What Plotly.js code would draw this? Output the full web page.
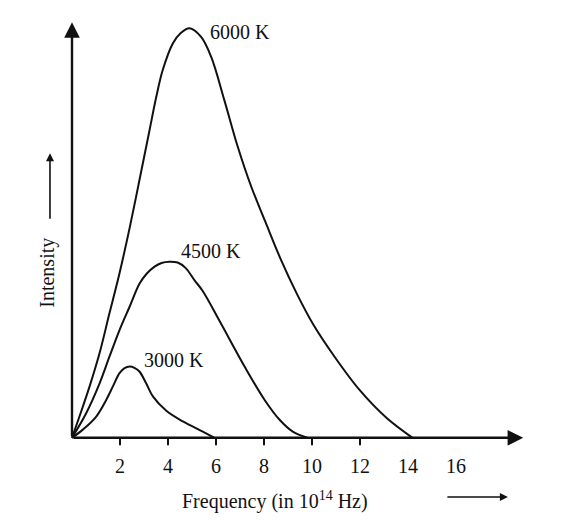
<!DOCTYPE html>
<html>
<head>
<meta charset="utf-8">
<script src="https://cdn.plot.ly/plotly-3.0.1.min.js"></script>
<style>
  html, body { margin: 0; padding: 0; background: #fff; }
  #chart { width: 588px; height: 526px; }
</style>
</head>
<body>
<div id="chart"></div>
<script>
// frequency in 10^14 Hz, intensity in arbitrary units (6000 K peak = 100)
const freq3000 = [0, 0.45, 1.01, 1.43, 1.70, 1.98, 2.19, 2.40, 2.60, 2.81, 3.09, 3.37, 3.93, 4.62, 5.45, 5.94];
const int3000  = [0, 2.0, 5.2, 9.3, 12.5, 15.8, 17.0, 17.4, 17.1, 16.2, 13.3, 10.1, 6.6, 4.0, 1.5, 0];

const freq4500 = [0, 0.59, 1.15, 1.56, 1.98, 2.40, 2.81, 3.10, 3.44, 3.73, 4.06, 4.40, 4.73, 5.10, 5.44, 6.15, 7.19, 8.02, 8.65, 9.20, 9.81];
const int4500  = [0, 6.0, 13.3, 19.8, 26.3, 32.0, 37.6, 40.0, 41.8, 42.7, 43.0, 42.8, 41.5, 38.5, 35.9, 28.5, 17.4, 9.3, 4.4, 1.5, 0];

const freq6000 = [0, 0.31, 0.73, 1.15, 1.56, 1.98, 2.40, 2.95, 3.23, 3.51, 3.78, 4.20, 4.52, 4.90, 5.38, 5.80, 6.35, 6.91, 7.47, 8.06, 8.69, 9.35, 10.06, 10.94, 11.98, 13.10, 14.19];
const int6000  = [0, 5.2, 12.5, 20.7, 30.4, 40.2, 51.2, 67.0, 75.1, 83.2, 89.8, 96.3, 98.8, 100, 97.9, 93.0, 82.4, 71.0, 61.3, 52.7, 43.7, 35.4, 27.6, 19.8, 11.7, 4.9, 0];

const curveLabels = ["3000 K", "4500 K", "6000 K"];
const labelX = [4.23, 5.79, 7.02];
const labelY = [19.0, 45.6, 99.0];

const tickLabels = [2, 4, 6, 8, 10, 12, 14, 16];
const tickMarks = [2, 4, 6, 8, 10, 12];

const font = "Liberation Serif, Times New Roman, serif";
const ink = "#111";

const curve = (x, y) => ({
    x: x, y: y, type: "scatter", mode: "lines",
    line: {color: ink, width: 2, shape: "spline", smoothing: 1},
    hoverinfo: "skip", showlegend: false
});

const data = [curve(freq3000, int3000), curve(freq4500, int4500), curve(freq6000, int6000)];

const annotations = curveLabels.map((t, i) => ({
    x: labelX[i], y: labelY[i], xref: "x", yref: "y", text: t, showarrow: false,
    xanchor: "center", yanchor: "middle",
    font: {family: font, size: 20, color: ink}
}));

// axes with arrowheads
annotations.push({x: 18.8, y: 0, ax: 0, ay: 0, axref: "x", ayref: "y", xref: "x", yref: "y",
    text: "", showarrow: true, arrowhead: 2, arrowsize: 1.3, arrowwidth: 2.4, arrowcolor: ink});
annotations.push({x: 0, y: 101.5, ax: 0, ay: 0, axref: "x", ayref: "y", xref: "x", yref: "y",
    text: "", showarrow: true, arrowhead: 2, arrowsize: 1.3, arrowwidth: 2.4, arrowcolor: ink});

// axis titles
annotations.push({x: 0.459, y: -0.1256, xref: "paper", yref: "paper", text: "Frequency (in 10<sup>14</sup> Hz)",
    xanchor: "center", yanchor: "middle",
    showarrow: false, font: {family: font, size: 20, color: ink}});
annotations.push({x: 0.957, y: -0.1186, ax: -62, ay: 0, xref: "paper", yref: "paper",
    text: "", showarrow: true, arrowhead: 2, arrowsize: 1, arrowwidth: 1.6, arrowcolor: ink});
annotations.push({x: -0.0256, y: 0.403, xref: "paper", yref: "paper", text: "Intensity", textangle: -90,
    xanchor: "center", yanchor: "middle",
    showarrow: false, font: {family: font, size: 20, color: ink}});
annotations.push({x: -0.0214, y: 0.681, ax: 0, ay: 67, xref: "paper", yref: "paper",
    text: "", showarrow: true, arrowhead: 2, arrowsize: 1, arrowwidth: 1.6, arrowcolor: ink});

const shapes = tickMarks.map(v => ({
    type: "line", xref: "x", yref: "y", x0: v, x1: v, y0: 0, y1: -1.8,
    line: {color: ink, width: 2}
}));

const layout = {
    width: 588,
    height: 526,
    margin: {l: 60, r: 60, t: 16, b: 80},
    paper_bgcolor: "#fff",
    plot_bgcolor: "#fff",
    xaxis: {
        range: [-0.5, 19], showgrid: false, zeroline: false, showline: false,
        tickvals: tickLabels, ticktext: tickLabels.map(String), ticks: "",
        ticklabelstandoff: 6,
        tickfont: {family: font, size: 20, color: ink}
    },
    yaxis: {
        range: [-2, 103], showgrid: false, zeroline: false, showline: false,
        showticklabels: false, ticks: ""
    },
    annotations: annotations,
    shapes: shapes
};

Plotly.newPlot("chart", data, layout, {displayModeBar: false, staticPlot: true});
</script>
</body>
</html>
